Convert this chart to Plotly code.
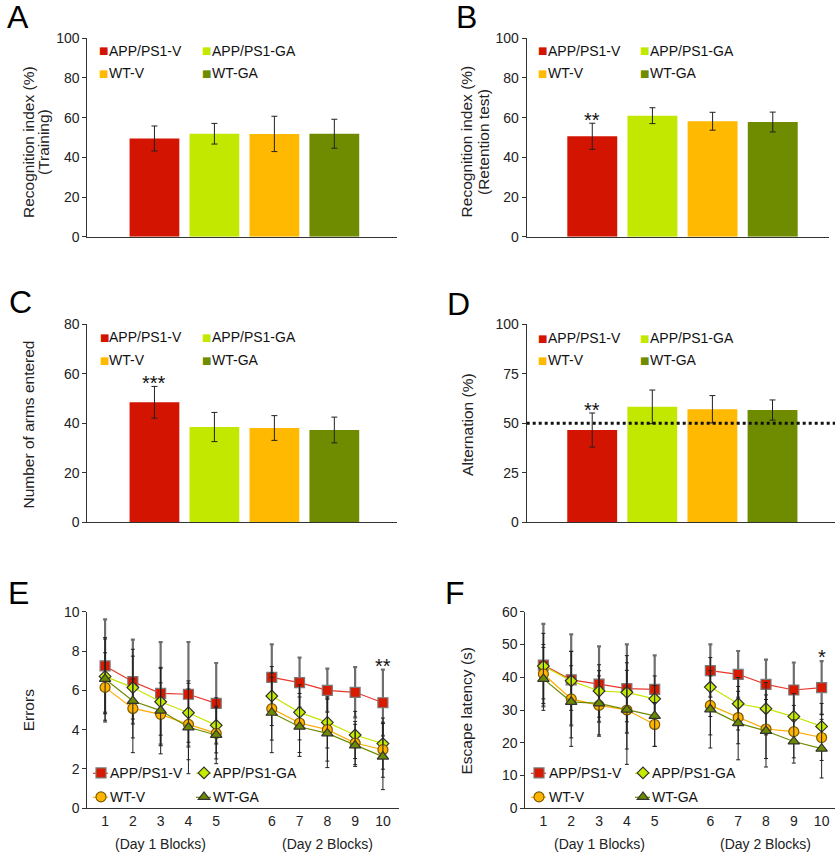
import plotly.graph_objects as go

# ---------------- data ----------------
groups = ["APP/PS1-V", "APP/PS1-GA", "WT-V", "WT-GA"]
bar_colors = ["#d21400", "#c3e800", "#ffb900", "#6f8c00"]

A_mean = [49.5, 51.9, 51.8, 51.9]
A_err = [6.3, 5.2, 8.9, 7.3]
B_mean = [50.6, 61.0, 58.2, 57.8]
B_err = [6.6, 4.0, 4.5, 5.0]
C_mean = [48.5, 38.5, 38.1, 37.3]
C_err = [6.4, 5.9, 5.0, 5.2]
D_mean = [46.6, 58.3, 57.1, 56.7]
D_err = [8.6, 8.5, 6.9, 5.1]

block_labels = ["1", "2", "3", "4", "5", "6", "7", "8", "9", "10"]

E_red = [7.24, 6.44, 5.85, 5.80, 5.34, 6.66, 6.39, 6.00, 5.90, 5.37]
E_lime = [6.71, 6.14, 5.42, 4.86, 4.22, 5.71, 4.88, 4.37, 3.73, 3.29]
E_orange = [6.15, 5.08, 4.78, 4.27, 3.81, 5.07, 4.34, 4.00, 3.32, 2.98]
E_olive = [6.58, 5.46, 4.97, 4.12, 3.73, 4.86, 4.15, 3.81, 3.20, 2.63]
E_red_err = [2.37, 2.14, 2.60, 2.66, 2.05, 1.68, 1.27, 1.10, 1.28, 1.68]
E_lime_err = [1.90, 1.60, 1.70, 1.50, 1.40, 1.50, 1.40, 1.30, 1.20, 1.30]
E_orange_err = [1.76, 1.50, 1.60, 1.80, 1.30, 1.60, 1.50, 1.60, 1.10, 1.40]
E_olive_err = [2.10, 2.63, 2.20, 2.36, 1.46, 2.03, 1.51, 1.74, 1.07, 1.68]

F_red = [43.7, 39.2, 37.9, 36.5, 36.3, 42.0, 40.9, 37.8, 36.1, 36.8]
F_lime = [43.4, 38.9, 35.8, 35.4, 33.4, 37.0, 31.9, 30.4, 28.0, 25.0]
F_orange = [41.0, 33.4, 31.4, 30.0, 25.6, 31.4, 27.7, 24.2, 23.4, 21.6]
F_olive = [39.5, 32.5, 32.0, 30.1, 28.2, 30.2, 26.0, 23.6, 20.4, 18.2]
F_red_err = [12.6, 13.9, 11.5, 13.5, 10.4, 8.0, 7.1, 7.6, 8.4, 8.1]
F_lime_err = [10.0, 9.0, 8.0, 9.0, 7.0, 9.0, 8.0, 8.0, 7.0, 7.0]
F_orange_err = [9.0, 14.5, 9.0, 16.6, 6.7, 9.0, 8.0, 9.0, 8.0, 7.0]
F_olive_err = [9.6, 11.0, 10.0, 12.0, 9.3, 11.8, 11.2, 11.0, 6.6, 8.95]

# ---------------- helpers ----------------
W, H = 840, 859
FONT = "Liberation Sans, Arial, sans-serif"
AX = "#333333"


def px(x):
    return x / W


def py(y):
    return 1 - y / H


# block positions: day 2 shifted by one empty slot
def block_x(n_day=5):
    return list(range(1, n_day + 1)) + [None] + list(range(n_day + 2, 2 * n_day + 2))


def split(vals, n_day=5):
    return list(vals[:n_day]) + [None] + list(vals[n_day:])


tick_pos = [v for v in block_x() if v is not None]

fig = go.Figure()

# ---------------- bar panels ----------------
bar_panels = [
    ("x", "y", A_mean, A_err),
    ("x2", "y2", B_mean, B_err),
    ("x3", "y3", C_mean, C_err),
    ("x4", "y4", D_mean, D_err),
]
for xa, ya, m, e in bar_panels:
    fig.add_trace(go.Bar(
        x=groups, y=m, xaxis=xa, yaxis=ya, width=0.83,
        marker=dict(color=bar_colors, line=dict(width=0)),
        error_y=dict(type="data", array=e, color="#222222", thickness=1, width=3),
        showlegend=False, hoverinfo="skip",
    ))

# ---------------- line panels ----------------
series_style = [
    # name, line color, marker symbol, marker fill, marker outline, size, err color, err thick
    ("APP/PS1-V", "#e8362b", "square", "#d81b00", "#7a7a7a", 10, "#6e6e6e", 2.2),
    ("APP/PS1-GA", "#c6e500", "diamond", "#c4ec00", "#333333", 9, "#222222", 1),
    ("WT-V", "#ffaa00", "circle", "#ffb400", "#7a5a00", 10, "#222222", 1),
    ("WT-GA", "#6e8b00", "triangle-up", "#6b8a00", "#333333", 10, "#222222", 1),
]
E_vals = [E_red, E_lime, E_orange, E_olive]
E_errs = [E_red_err, E_lime_err, E_orange_err, E_olive_err]
F_vals = [F_red, F_lime, F_orange, F_olive]
F_errs = [F_red_err, F_lime_err, F_orange_err, F_olive_err]

legend_names = ["legend", "legend2", "legend3", "legend4",
                "legend5", "legend6", "legend7", "legend8"]

for p, (xa, ya, vals, errs) in enumerate([("x5", "y5", E_vals, E_errs),
                                          ("x6", "y6", F_vals, F_errs)]):
    for i, (name, lc, sym, fc, oc, sz, ec, et) in enumerate(series_style):
        fig.add_trace(go.Scatter(
            x=block_x(), y=split(vals[i]), xaxis=xa, yaxis=ya,
            mode="lines+markers", name=name,
            line=dict(color=lc, width=1.2),
            marker=dict(symbol=sym, size=sz, color=fc, line=dict(color=oc, width=1.2)),
            error_y=dict(type="data", array=split(errs[i]), color=ec, thickness=et, width=2),
            connectgaps=False, showlegend=False, hoverinfo="skip",
        ))
        # marker-only legend proxy (no data)
        fig.add_trace(go.Scatter(
            x=[None], y=[None], xaxis=xa, yaxis=ya, mode="markers", name=" ",
            marker=dict(symbol=sym, size=sz, color=fc, line=dict(color=oc, width=1.2)),
            legend=legend_names[p * 4 + i], showlegend=True, hoverinfo="skip",
        ))

# ---------------- axes ----------------
tickfont = dict(family=FONT, size=14, color="#222222")


def yax(domain_px, rng, dtick):
    return dict(domain=[py(domain_px[1]), py(domain_px[0])], range=rng, dtick=dtick,
                showline=True, linecolor=AX, linewidth=1, ticks="outside", ticklen=4,
                tickcolor=AX, showgrid=False, zeroline=False, tickfont=tickfont,
                automargin=False)


def xax(domain_px, rng, anchor, **kw):
    d = dict(domain=[px(domain_px[0]), px(domain_px[1])], range=rng, anchor=anchor,
             showline=True, linecolor=AX, linewidth=1, ticks="", showgrid=False,
             zeroline=False, tickfont=tickfont, automargin=False)
    d.update(kw)
    return d


fig.update_layout(
    template="none",
    xaxis=xax((87.3, 396.7), [-1.12, 4.04], "y", showticklabels=False),
    yaxis=yax((38.3, 236.7), [0, 100], 20) | dict(anchor="x"),
    xaxis2=xax((526.7, 829.3), [-1.09, 3.94], "y2", showticklabels=False),
    yaxis2=yax((38.3, 236.7), [0, 100], 20) | dict(anchor="x2"),
    xaxis3=xax((87.3, 396.7), [-1.12, 4.04], "y3", showticklabels=False),
    yaxis3=yax((324.3, 522.3), [0, 80], 20) | dict(anchor="x3"),
    xaxis4=xax((526.7, 835), [-1.09, 4.04], "y4", showticklabels=False),
    yaxis4=yax((324.3, 522.3), [0, 100], 25) | dict(anchor="x4"),
    xaxis5=xax((87.3, 399.3), [0.36, 11.59], "y5", tickmode="array",
               tickvals=tick_pos, ticktext=block_labels),
    yaxis5=yax((611.7, 808.3), [0, 10], 2) | dict(anchor="x5"),
    xaxis6=xax((525.3, 835), [0.35, 11.48], "y6", tickmode="array",
               tickvals=tick_pos, ticktext=block_labels),
    yaxis6=yax((611.7, 808.3), [0, 60], 10) | dict(anchor="x6"),
)

# ---------------- legends (line panels) ----------------
leg_marker_x = [(101, 204), (539, 643)]
leg_text_x = [(108, 211), (547, 650)]
leg_rows = [773.3, 797.3]
legend_layout = {}
shapes = []
ann = []
for p in range(2):
    for i in range(4):
        col, row = i % 2, i // 2
        mx = leg_marker_x[p][col]
        legend_layout[legend_names[p * 4 + i]] = dict(
            x=px(mx - 20), y=py(leg_rows[row]),
            xanchor="left", yanchor="middle", bgcolor="rgba(0,0,0,0)",
            font=dict(family=FONT, size=14, color="#111111"),
            itemwidth=30, borderwidth=0,
        )
        shapes.append(dict(type="line", xref="paper", yref="paper",
                           x0=px(mx - 8), x1=px(mx + 7),
                           y0=py(leg_rows[row]), y1=py(leg_rows[row]),
                           line=dict(color=series_style[i][1], width=1.2)))
        ann.append(dict(x=px(leg_text_x[p][col]), y=py(leg_rows[row]),
                        xref="paper", yref="paper", text=series_style[i][0],
                        font=dict(family=FONT, size=14, color="#111111"),
                        xanchor="left", yanchor="middle", showarrow=False))
fig.update_layout(**legend_layout)

# ---------------- annotations ----------------
# bar panel legends
bar_leg = [((97.3, 200.0), (51.0, 73.3)),
           ((536.0, 638.3), (51.0, 73.3)),
           ((97.7, 200.0), (337.3, 360.0)),
           ((536.0, 638.3), (338.0, 360.0))]
for (cx, ry) in bar_leg:
    for i, g in enumerate(groups):
        col, row = i % 2, i // 2
        ann.append(dict(x=px(cx[col]), y=py(ry[row]), xref="paper", yref="paper",
                        text=f'<span style="color:{bar_colors[i]}">■</span>',
                        font=dict(family="DejaVu Sans", size=10),
                        xanchor="left", yanchor="middle", showarrow=False))
        ann.append(dict(x=px(cx[col] + 9.5), y=py(ry[row]), xref="paper", yref="paper",
                        text=g, font=dict(family=FONT, size=14, color="#111111"),
                        xanchor="left", yanchor="middle", showarrow=False))

# panel letters
for letter, (lx, ly) in zip("ABCDEF", [(18, 17.5), (466, 17), (20, 302.5),
                                      (458.5, 304), (18, 593), (455, 593)]):
    ann.append(dict(x=px(lx), y=py(ly), xref="paper", yref="paper", text=letter,
                    font=dict(family=FONT, size=32, color="#000000"),
                    xanchor="center", yanchor="middle", showarrow=False))

# y-axis titles (rotated)
ytitles = [
    ("Recognition index (%)", 28.3, 141.7), ("(Training)", 43.3, 141.7),
    ("Recognition index (%)", 466.7, 141.7), ("(Retention test)", 483.3, 141.7),
    ("Number of arms entered", 28.3, 424.2),
    ("Alternation (%)", 466.7, 424.2),
    ("Errors", 28.3, 710.0),
    ("Escape latency (s)", 466.7, 710.8),
]
for t, tx, ty in ytitles:
    ann.append(dict(x=px(tx), y=py(ty), xref="paper", yref="paper", text=t,
                    textangle=-90, font=dict(family=FONT, size=15.5, color="#222222"),
                    xanchor="center", yanchor="middle", showarrow=False))

# day labels
for xa in ["x5", "x6"]:
    for k, lab in enumerate(["(Day 1 Blocks)", "(Day 2 Blocks)"]):
        ann.append(dict(x=tick_pos[2 + 5 * k], y=py(844), xref=xa, yref="paper", text=lab,
                        font=dict(family=FONT, size=14, color="#222222"),
                        xanchor="center", yanchor="middle", showarrow=False))

# significance stars
stars = [("x2", "y2", groups[0], 61.2, "**"), ("x3", "y3", groups[0], 58.2, "***"),
         ("x4", "y4", groups[0], 59.2, "**"), ("x5", "y5", tick_pos[9], 7.5, "**"),
         ("x6", "y6", tick_pos[9], 47.8, "*")]
for xa, ya, xv, yv, s in stars:
    ann.append(dict(x=xv, y=yv, xref=xa, yref=ya, text=s, yshift=-5,
                    font=dict(family=FONT, size=20, color="#111111"),
                    xanchor="center", yanchor="middle", showarrow=False))

fig.update_layout(annotations=ann)

# chance line in D
shapes.append(dict(type="line", xref="x4 domain", yref="y4", x0=0, x1=1, y0=50, y1=50,
                   line=dict(color="#111111", width=3, dash="dot")))
fig.update_layout(shapes=shapes)

fig.update_layout(
    width=W, height=H, autosize=False,
    margin=dict(l=0, r=0, t=0, b=0, pad=0),
    paper_bgcolor="white", plot_bgcolor="white",
    barmode="overlay", showlegend=True,
    font=dict(family=FONT),
)

fig.write_html(
    "out.html",
    config={"displayModeBar": False},
    post_script="document.body.style.margin='0';document.body.style.overflow='hidden';"
                "document.documentElement.style.overflow='hidden';",
)
